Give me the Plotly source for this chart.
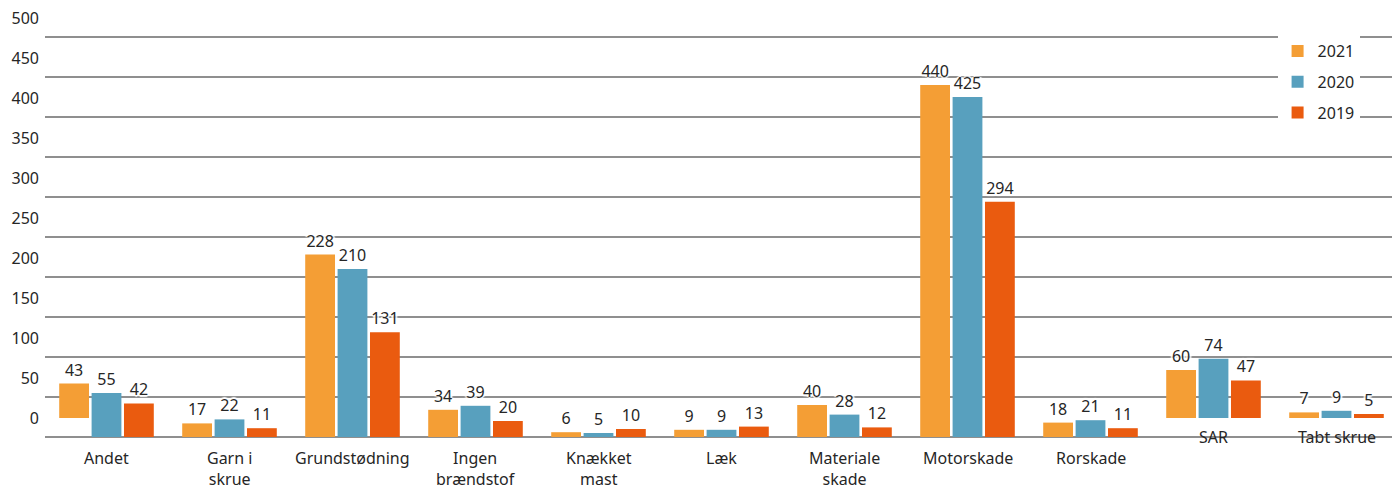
import plotly.graph_objects as go

categories = ["Andet", "Garn i<br>skrue", "Grundstødning", "Ingen<br>brændstof",
              "Knækket<br>mast", "Læk", "Materiale<br>skade", "Motorskade",
              "Rorskade", "SAR", "Tabt skrue"]
years = ["2021", "2020", "2019"]
v2021 = [43, 17, 228, 34, 6, 9, 40, 440, 18, 60, 7]
v2020 = [55, 22, 210, 39, 5, 9, 28, 425, 21, 74, 9]
v2019 = [42, 11, 131, 20, 10, 13, 12, 294, 11, 47, 5]
y_ticks = [0, 50, 100, 150, 200, 250, 300, 350, 400, 450, 500]

# --- styling (rendering quirk of the original: some bars/labels drawn lifted) ---
colors = {"2021": "#F49E35", "2020": "#58A0BE", "2019": "#EA5B0F"}
FONT = "Noto Sans"
TXT = "#262626"
GRID = "#8f8f8f"
BODY = 8  # default page body margin
LIFT_PX = 19
PX_PER_UNIT = 0.8
LIFT = LIFT_PX / PX_PER_UNIT
lifted = {"2021": {"Andet", "SAR", "Tabt skrue"},
          "2020": {"SAR", "Tabt skrue"},
          "2019": {"SAR", "Tabt skrue"}}
lifted_labels = {"SAR", "Tabt skrue"}

series = {"2021": v2021, "2020": v2020, "2019": v2019}

fig = go.Figure()
for i, yr in enumerate(years):
    vals = series[yr]
    bases = [LIFT if c.replace("<br>", " ") in lifted[yr] else 0 for c in categories]
    fig.add_trace(go.Bar(
        x=categories, y=vals, base=bases, name=yr,
        marker=dict(color=colors[yr], line=dict(width=0)),
        text=[str(v) for v in vals], textposition="outside",
        textfont=dict(family=FONT, size=16, color=TXT,
                      shadow="2px 0 1px white, -2px 0 1px white, 0 2px 1px white, 0 -2px 1px white"),
        cliponaxis=False, legendgroup=yr,
    ))

for c in categories:
    plain = c.replace("<br>", " ")
    fig.add_annotation(
        x=c, xref="x", y=0, yref="paper", yanchor="top",
        yshift=-8 + (LIFT_PX + 2 if plain in lifted_labels else 0),
        text=c, showarrow=False, font=dict(family=FONT, size=16, color=TXT),
    )

W, H = 1400 - BODY, 487 - BODY
top_m, bot_m = 26, 50
plot_h = H - top_m - bot_m
fig.update_layout(
    width=W, height=H,
    margin=dict(l=37, r=2, t=top_m, b=bot_m, autoexpand=False),
    paper_bgcolor="white", plot_bgcolor="white",
    barmode="group", bargap=0.21, bargroupgap=0.08,
    font=dict(family=FONT, size=16, color=TXT),
    legend=dict(x=0.911, xanchor="left", y=1.0, yanchor="top",
                bgcolor="white", font=dict(family=FONT, size=16, color=TXT),
                tracegroupgap=7, traceorder="grouped"),
    showlegend=True,
)
fig.update_xaxes(showticklabels=False, showgrid=False, ticks="", showline=False,
                 automargin=False)
fig.update_yaxes(range=[0, plot_h / PX_PER_UNIT], tickvals=y_ticks,
                 ticktext=[str(t) for t in y_ticks],
                 showgrid=True, gridcolor=GRID, gridwidth=1.5,
                 zeroline=True, zerolinecolor=GRID, zerolinewidth=1.5,
                 ticklabelshift=-LIFT_PX, ticklabelstandoff=5, automargin=False,
                 ticklabeloverflow="allow",
                 tickfont=dict(family=FONT, size=16, color=TXT), showline=False)

fig.write_html("out.html")
